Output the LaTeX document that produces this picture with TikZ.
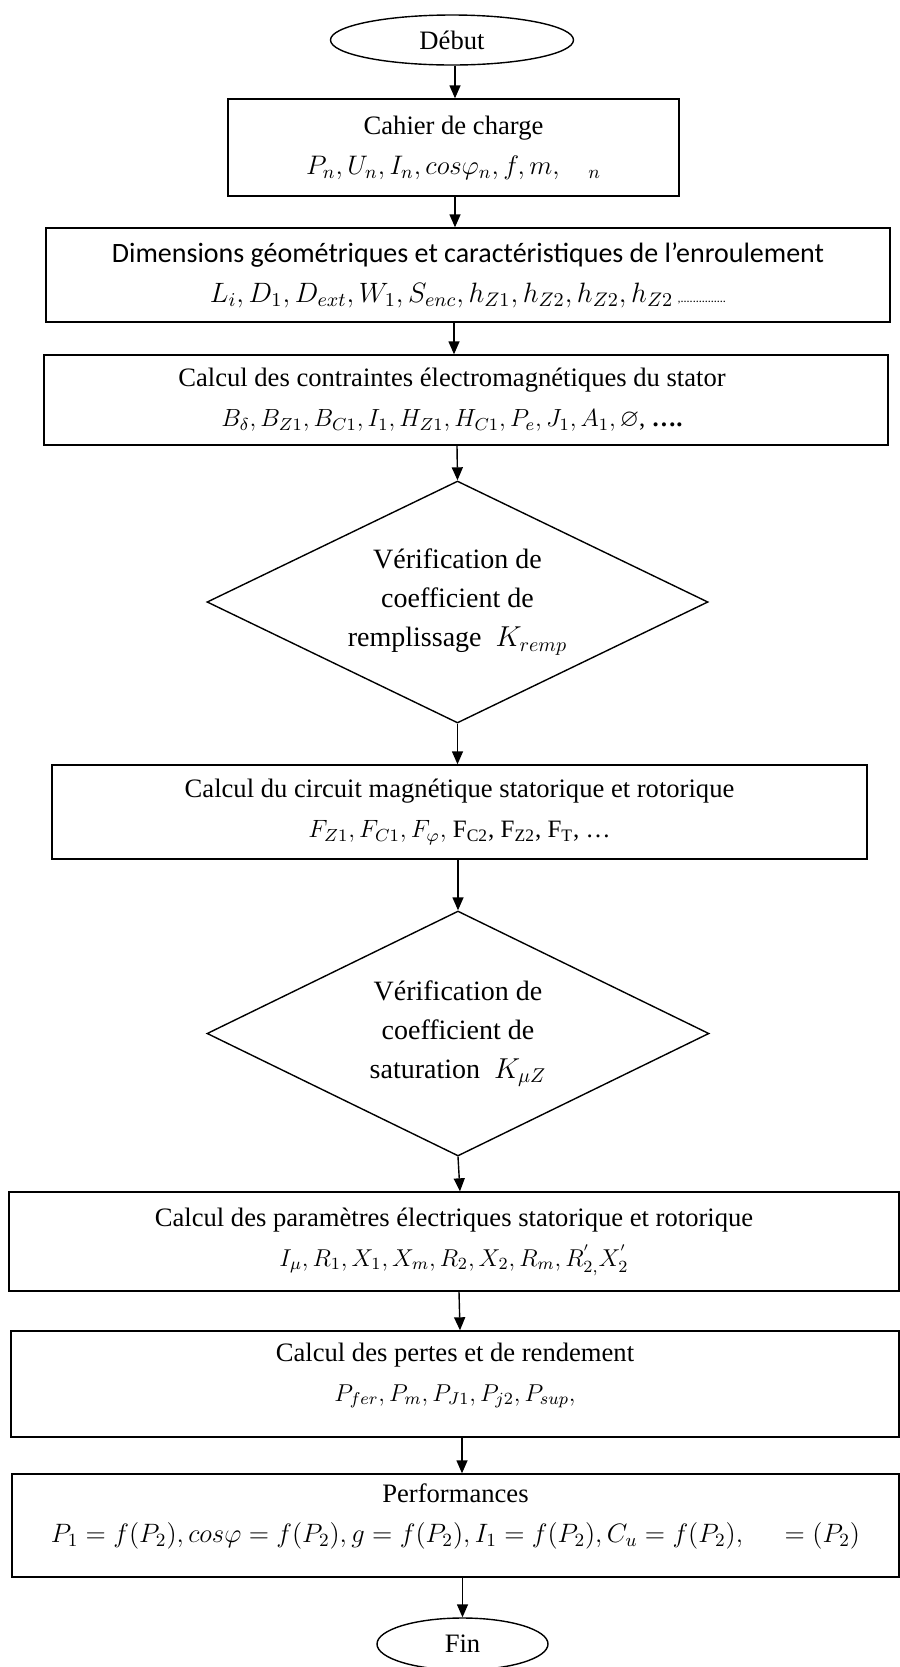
\RequirePackage{fix-cm}
\documentclass[tikz,border=0pt]{standalone}
\usepackage{fontspec}
\usepackage{amssymb}
\setmainfont{Liberation Serif}
\newfontfamily\calib{Carlito}
\newcommand\mathAt[1]{\fontsize{#1}{20}\selectfont}
\usetikzlibrary{shapes.geometric,arrows.meta}
\begin{document}
\begin{tikzpicture}[x=0.5pt,y=-0.5pt,
  every node/.style={font=\fontsize{13.3}{20}\selectfont},
  box/.style={draw,line width=0.7pt,rectangle,align=center,inner sep=0pt},
  term/.style={draw,line width=0.7pt,ellipse,inner sep=0pt},
  dec/.style={draw,line width=0.7pt,diamond,aspect=2.07,align=center,inner sep=0pt,font=\fontsize{14}{19.5}\selectfont},
  arr/.style={line width=0.7pt,-{Triangle[length=6.5pt,width=5.5pt]}}]
\useasboundingbox (0,0) rectangle (900,1667);
\node[term,minimum width=121.5pt,minimum height=25pt] (deb) at (452,40) {Début};
\node[box,minimum width=225.5pt,minimum height=48.5pt] (b1) at (453.5,147.5)
  {Cahier de charge\\ {\mathAt{13.4}$P_n, U_n, I_n, cos\varphi_n, f, m,\hspace{0.9em}{}_n$}};
\node[box,minimum width=422pt,minimum height=47pt] (b2) at (468,275)
  {{\calib\fontsize{14}{20}\selectfont Dimensions géométriques et caractéristiques de l’enroulement}\\
   {\mathAt{14}$L_i, D_1, D_{ext}, W_1, S_{enc}, h_{Z1}, h_{Z2}, h_{Z2}, h_{Z2}$}\,{\calib\fontsize{6}{7}\selectfont ,...............}};
\node[box,minimum width=422pt,minimum height=45pt] (b3) at (466,400)
  {Calcul des contraintes électromagnétiques du stator\hspace*{14pt}\\
   {\mathAt{12.4}$B_\delta, B_{Z1}, B_{C1}, I_1, H_{Z1}, H_{C1}, P_e, J_1, A_1, \varnothing$, \textbf{\ldots.}}\hspace*{14pt}};
\node[dec,minimum width=250.5pt,minimum height=121pt] (d1) at (457.5,602)
  {Vérification de\\ coefficient de\\ remplissage \ {\mathAt{14.4}$K_{remp}$}};
\node[box,minimum width=407.5pt,minimum height=47pt] (b4) at (459.5,812)
  {Calcul du circuit magnétique statorique et rotorique\\
   {\mathAt{12.5}$F_{Z1}, F_{C1}, F_\varphi,$ F$_{\mathrm{C2}}$, F$_{\mathrm{Z2}}$, F$_{\mathrm{T}}$, \ldots}};
\node[dec,minimum width=251pt,minimum height=122.5pt] (d2) at (458,1033.5)
  {Vérification de\\ coefficient de\\ saturation \ {\mathAt{14.4}$K_{\mu Z}$}};
\node[box,minimum width=445pt,minimum height=49.5pt] (b5) at (454,1241.5)
  {Calcul des paramètres électriques statorique et rotorique\\
   {\mathAt{12.2}$I_\mu, R_1, X_1, X_m, R_2, X_2, R_m, R^{'}_{2,}X^{'}_2$}};
\node[box,minimum width=444pt,minimum height=53pt] (b6) at (455,1384)
  {Calcul des pertes et de rendement\\
   {\mathAt{12.2}$P_{fer}, P_m, P_{J1}, P_{j2}, P_{sup},$}\\[-14pt]\strut};
\node[box,minimum width=443.5pt,minimum height=51.5pt] (b7) at (455.5,1525.5)
  {Performances\\
   {\mathAt{13.3}$P_1 = f(P_2), cos\varphi = f(P_2), g = f(P_2), I_1 = f(P_2), C_u = f(P_2),\hspace{1.4em} = (P_2)$}\\[-14pt]\strut};
\node[term,minimum width=85.5pt,minimum height=26pt] (fin) at (462.5,1644) {Fin};
\draw[arr] (deb.south -| 455,0) -- (b1.north -| 455,0);
\draw[arr] (b1.south -| 455,0) -- (b2.north -| 455,0);
\draw[arr] (b2.south -| 454,0) -- (b3.north -| 454,0);
\draw[arr] (b3.south -| 457,0) -- (d1.north);
\draw[arr] (d1.south) -- (b4.north -| 457.5,0);
\draw[arr] (b4.south -| 458,0) -- (d2.north);
\draw[arr] (d2.south) -- (b5.north -| 460,0);
\draw[arr] (b5.south -| 459,0) -- (b6.north -| 460,0);
\draw[arr] (b6.south -| 462,0) -- (b7.north -| 462,0);
\draw[arr] (b7.south -| 462.5,0) -- (fin.north);
\end{tikzpicture}
\end{document}
